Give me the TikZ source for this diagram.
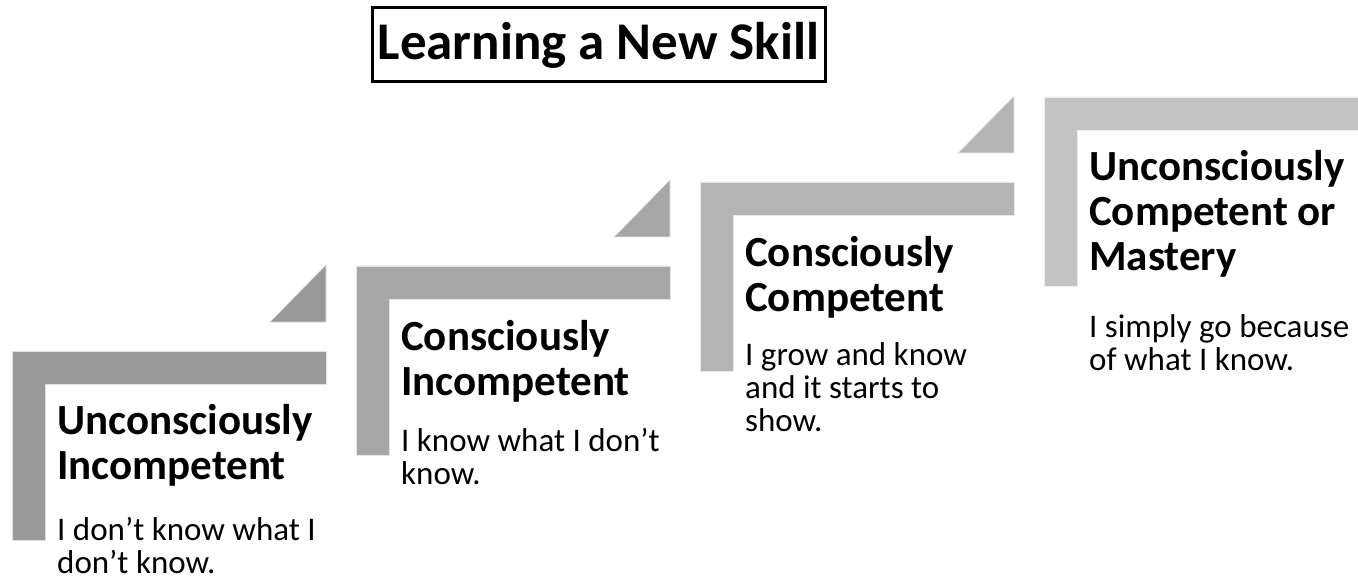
\documentclass[tikz,border=0pt]{standalone}
\usepackage{fontspec}
\setmainfont{Carlito}
\begin{document}
\begin{tikzpicture}[x=1pt,y=-1pt,
  % the base anchor of a multi-line node sits on its last line
  headtext/.style={anchor=base west,inner sep=0pt,align=left,
    font=\fontsize{43}{45}\selectfont\bfseries},
  bodytext/.style={anchor=base west,inner sep=0pt,align=left,
    font=\fontsize{33}{33}\selectfont},
  stepshape/.style={fill=#1,draw=white!70!#1,line width=0.6pt}]
\useasboundingbox (0,0) rectangle (1358,580);
\definecolor{stepA}{HTML}{999999}
\definecolor{stepB}{HTML}{A6A6A6}
\definecolor{stepC}{HTML}{B4B4B4}
\definecolor{stepD}{HTML}{C3C3C3}

% title
\node[draw=black,line width=3pt,minimum width=453pt,minimum height=74pt,inner sep=0pt,
  font=\fontsize{53}{58}\selectfont\bfseries] (title) at (598.5,45) {Learning a New Skill};

% step outlines: an L-shaped bracket, plus a corner triangle on the first three
\foreach \x/\y/\c/\tri in {12/351/stepA/1,356/266/stepB/1,700/182/stepC/1,1044/97/stepD/0}{
  \fill[stepshape=\c] (\x,\y) -- ++(314,0) -- ++(0,33) -- ++(-281,0) -- ++(0,156)
     -- ++(-33,0) -- cycle;
  \ifnum\tri=1
    \fill[stepshape=\c] (\x+258,\y-29) -- (\x+314,\y-29) -- (\x+314,\y-86) -- cycle;
  \fi
}

% step 1
\node[headtext] (h1) at (57,479) {Unconsciously\\Incompetent};
\node[bodytext] (b1) at (57,573) {I don’t know what I\\don’t know.};
% step 2
\node[headtext] (h2) at (401,395) {Consciously\\Incompetent};
\node[bodytext] (b2) at (401,484) {I know what I don’t\\know.};
% step 3
\node[headtext] (h3) at (745,311) {Consciously\\Competent};
\node[bodytext] (b3) at (745,431) {I grow and know\\and it starts to\\show.};
% step 4
\node[headtext] (h4) at (1089,271) {Unconsciously\\Competent or\\Mastery};
\node[bodytext] (b4) at (1089,370) {I simply go because\\of what I know.};
\end{tikzpicture}
\end{document}
